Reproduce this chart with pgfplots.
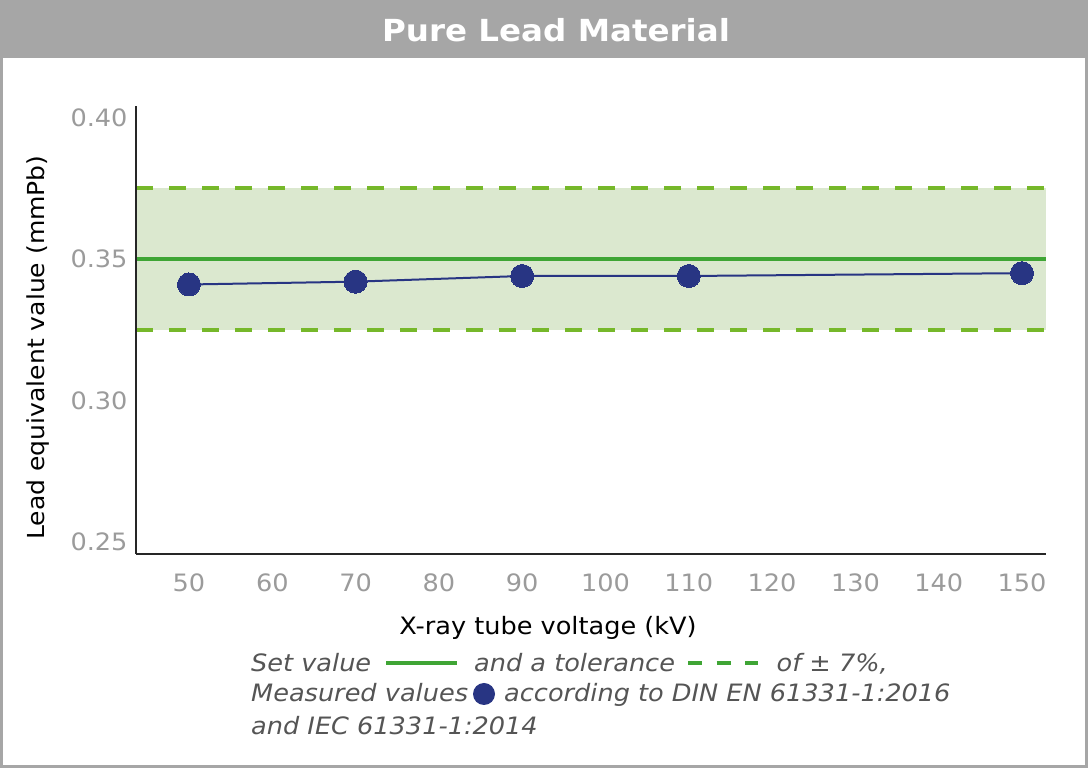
\documentclass[border=0pt]{standalone}
\usepackage{fontspec}
\setmainfont{DejaVu Sans}[FakeStretch=1.07]
\usepackage{pgfplots}
\pgfplotsset{compat=1.18}
\definecolor{titlegray}{HTML}{A6A6A6}
\definecolor{tickgray}{HTML}{9B9B9B}
\definecolor{setgreen}{HTML}{3FA535}
\definecolor{tolgreen}{HTML}{76B82A}
\definecolor{bandfill}{HTML}{DBE8CF}
\definecolor{markblue}{HTML}{283583}
\definecolor{legtext}{HTML}{555555}
\begin{document}
\begin{tikzpicture}[x=1bp,y=1bp]
\useasboundingbox (0,0) rectangle (1088,768);
\fill[white] (0,0) rectangle (1088,768);
\fill[titlegray] (0,710) rectangle (1088,768);
\draw[titlegray, line width=3bp] (1.5,1.5) rectangle (1086.5,766.5);
\node[text=white, font=\fontsize{30.5}{34}\selectfont\bfseries] at (556,738) {Pure Lead Material};
\begin{axis}[
  at={(136bp,214bp)}, anchor=south west,
  width=910bp, height=448bp, scale only axis,
  xmin=43.64, xmax=152.88, ymin=0.24587, ymax=0.40401,
  axis lines=left, axis line style={-, line width=1.6bp, color=black!85},
  axis on top=true,
  xtick={50,60,...,150}, ytick={0.25,0.30,0.35,0.40},
  major tick length=0pt,
  /pgf/number format/assume math mode=true,
  tick label style={font=\fontsize{24}{28}\selectfont, text=tickgray},
  xticklabel style={yshift=-16bp},
  yticklabel style={xshift=-5bp, /pgf/number format/.cd, fixed, fixed zerofill, precision=2},
  clip=false,
]
\addplot[fill=bandfill, draw=none] coordinates {(43.64,0.325) (152.88,0.325) (152.88,0.375) (43.64,0.375)} -- cycle;
\addplot[tolgreen, line width=4bp, dash pattern=on 16.5bp off 16.5bp] coordinates {(43.64,0.375) (152.88,0.375)};
\addplot[tolgreen, line width=4bp, dash pattern=on 16.5bp off 16.5bp] coordinates {(43.64,0.325) (152.88,0.325)};
\addplot[setgreen, line width=4.5bp] coordinates {(43.64,0.35) (152.88,0.35)};
\addplot[markblue, line width=2bp, mark=*, mark size=11.5bp, mark options={fill=markblue, draw=markblue, line width=0pt}]
  coordinates {(50,0.341) (70,0.342) (90,0.344) (110,0.344) (150,0.345)};
\end{axis}
\node[font=\fontsize{24}{28}\selectfont, anchor=base] at (548,133) {X-ray tube voltage (kV)};
\node[font=\fontsize{23.5}{28}\selectfont, rotate=90] at (38,420.5) {Lead equivalent value (mmPb)};
\begin{scope}[every node/.style={inner sep=0pt, anchor=base west, text=legtext, font=\fontsize{24}{28}\selectfont\itshape}]
\node at (251,96) {Set value};
\draw[setgreen, line width=4bp] (386,104.5) -- (456.5,104.5);
\node at (474,96) {and a tolerance};
\draw[setgreen, line width=4bp, dash pattern=on 14bp off 14.5bp] (688,104.5) -- (758,104.5);
\node at (776.5,96) {of ± 7\%,};
\node at (251,66) {Measured values};
\fill[markblue] (484,74) circle (11bp);
\node at (504,66) {according to DIN EN 61331-1:2016};
\node at (251,33) {and IEC 61331-1:2014};
\end{scope}
\end{tikzpicture}
\end{document}
